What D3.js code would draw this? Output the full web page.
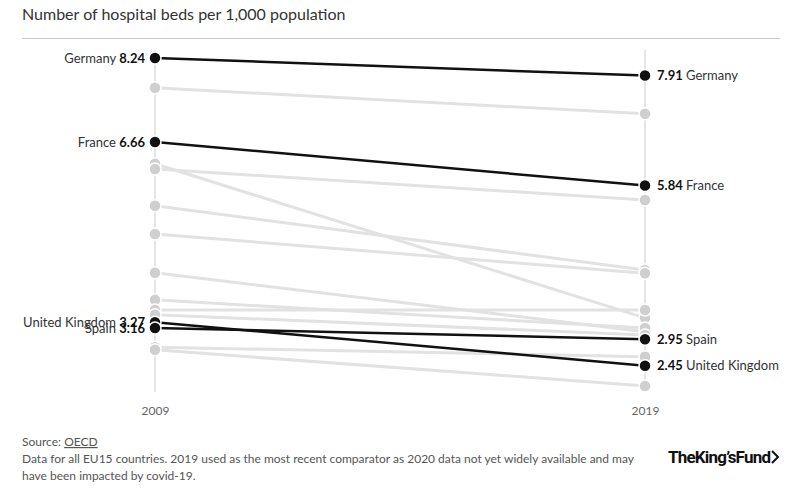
<!DOCTYPE html>
<html>
<head>
<meta charset="utf-8">
<script src="https://cdn.jsdelivr.net/npm/d3@7"></script>
<style>
  html, body { margin: 0; padding: 0; background: #fff; }
  svg { display: block; font-family: Lato, "Open Sans", sans-serif; }
</style>
</head>
<body>
<svg id="chart" width="800" height="490"></svg>
<script>
// ---- data ----
const years = ["2009", "2019"];
const countries = ["Germany", "Austria", "Finland", "France", "Belgium", "Luxembourg", "Greece",
  "Netherlands", "Italy", "Portugal", "United Kingdom", "Spain", "Ireland", "Denmark", "Sweden"];
const beds2009 = [8.24, 7.68, 6.25, 6.66, 6.15, 5.46, 4.93, 4.20, 3.69, 3.50, 3.27, 3.16, 3.41, 2.80, 2.75];
const beds2019 = [7.91, 7.19, 3.35, 5.84, 5.57, 4.25, 4.19, 3.09, 3.16, 3.50, 2.45, 2.95, 3.03, 2.62, 2.07];
const highlighted = ["Germany", "France", "Spain", "United Kingdom"];

const data = countries.map((c, i) => ({
  name: c, v0: beds2009[i], v1: beds2019[i], hi: highlighted.includes(c)
}));

const svg = d3.select("#chart");

// title
svg.append("text").attr("x", 22).attr("y", 20)
  .attr("font-size", 16).attr("fill", "#333")
  .text("Number of hospital beds per 1,000 population");
svg.append("line").attr("x1", 22).attr("x2", 780).attr("y1", 38.5).attr("y2", 38.5)
  .attr("stroke", "#c8c8c8").attr("stroke-width", 1);

const x = d3.scalePoint().domain(years).range([155, 645]);
const y = d3.scaleLinear().domain([0, 8.24]).range([496, 58]);

// vertical axes
svg.append("g").selectAll("line").data(years).join("line")
  .attr("x1", d => x(d)).attr("x2", d => x(d))
  .attr("y1", 50).attr("y2", 392)
  .attr("stroke", "#dcdcdc").attr("stroke-width", 1.5);

// year labels via axis
const xAxis = svg.append("g").attr("transform", "translate(0,400)")
  .call(d3.axisBottom(x).tickSize(0).tickPadding(6));
xAxis.select(".domain").remove();
xAxis.selectAll("text").attr("font-size", 12).attr("fill", "#666")
  .attr("font-family", "Lato, sans-serif");

const ordered = data.filter(d => !d.hi).concat(data.filter(d => d.hi));

// lines
svg.append("g").selectAll("line").data(ordered).join("line")
  .attr("x1", x("2009")).attr("x2", x("2019"))
  .attr("y1", d => y(d.v0)).attr("y2", d => y(d.v1))
  .attr("stroke", d => d.hi ? "#111" : "#e2e2e2")
  .attr("stroke-width", d => d.hi ? 2.5 : 3);

// dots
const dots = svg.append("g");
ordered.forEach(d => {
  [["2009", d.v0], ["2019", d.v1]].forEach(([yr, v]) => {
    dots.append("circle").attr("cx", x(yr)).attr("cy", y(v)).attr("r", 6)
      .attr("fill", d.hi ? "#111" : "#cfcfcf")
      .attr("stroke", "#fff").attr("stroke-width", 1.5);
  });
});

// labels
const hi = data.filter(d => d.hi);
const left = svg.append("g");
hi.forEach(d => {
  const t = left.append("text").attr("x", x("2009") - 10).attr("y", y(d.v0))
    .attr("dy", "0.35em").attr("text-anchor", "end").attr("font-size", 13).attr("fill", "#333");
  t.append("tspan").text(d.name + " ");
  t.append("tspan").attr("font-weight", "bold").attr("fill", "#111").text(d.v0.toFixed(2));
});
const right = svg.append("g");
hi.forEach(d => {
  const t = right.append("text").attr("x", x("2019") + 12).attr("y", y(d.v1))
    .attr("dy", "0.35em").attr("text-anchor", "start").attr("font-size", 13).attr("fill", "#333");
  t.append("tspan").attr("font-weight", "bold").attr("fill", "#111").text(d.v1.toFixed(2));
  t.append("tspan").text(" " + d.name);
});

// footer
const f = svg.append("g").attr("font-size", 12).attr("fill", "#555");
const s = f.append("text").attr("x", 22).attr("y", 446);
s.append("tspan").text("Source: ");
s.append("tspan").attr("text-decoration", "underline").text("OECD");
f.append("text").attr("x", 22).attr("y", 463)
  .text("Data for all EU15 countries. 2019 used as the most recent comparator as 2020 data not yet widely available and may");
f.append("text").attr("x", 22).attr("y", 480).text("have been impacted by covid-19.");

// logo
const logo = svg.append("g");
logo.append("text").attr("x", 668).attr("y", 463)
  .attr("font-size", 17).attr("font-weight", "bold").attr("fill", "#111")
  .attr("letter-spacing", -0.8).attr("font-family", "'Liberation Sans Narrow', 'Roboto', sans-serif")
  .text("TheKing’sFund");
logo.append("path").attr("d", "M772,451 L778,457 L772,463")
  .attr("fill", "none").attr("stroke", "#111").attr("stroke-width", 2);
</script>
</body>
</html>
